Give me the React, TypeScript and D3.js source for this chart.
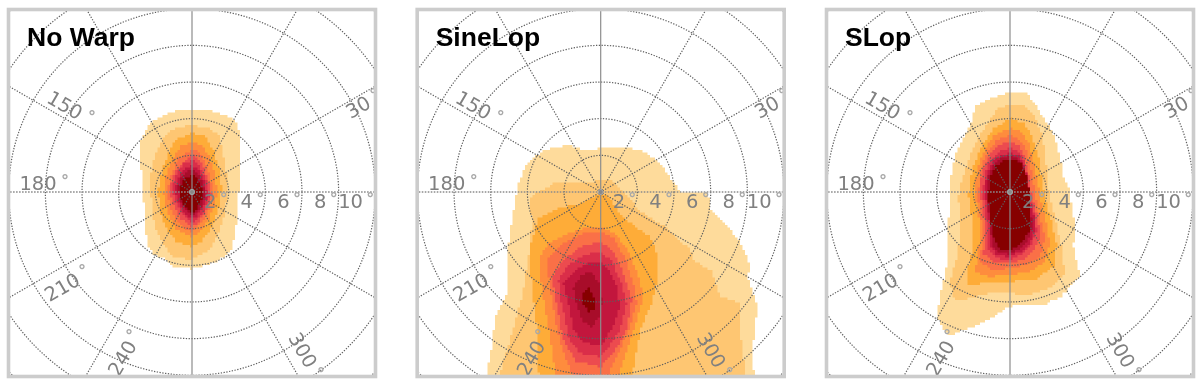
import React from "react";
import * as d3 from "d3";

type Pt = [number, number];

// field of view axes, in degrees
const radialTicks = [2, 4, 6, 8, 10];
const ringTicks = [2, 4, 6, 8, 10, 12, 14];
const spokeAngles = [0, 30, 60, 90, 120, 150];
const thetaTicks = ["30", "150", "180", "210", "240", "300"];
const panelTitles = ["No Warp", "SineLop", "SLop"];

const levelColors = [
  "#fedb9b", "#fec672", "#feac38", "#fe8c3c", "#fa6f46",
  "#ec4c50", "#da2e4a", "#c2163c", "#a80a2a", "#860004",
];

// iso-density contours, [x deg, y deg] from the view centre, outermost first
const noWarpLevels: Pt[][] = [
  [[0,4.49],[1.18,4.4],[2.36,3.95],[2.67,2.85],[2.55,1.76],[2.67,.67],[2.49,-.42],[2.49,-1.33],[2.36,-2.24],[2.18,-3.15],[1.91,-3.47],[1,-3.96],[0,-4.2],[-1,-4.05],[-1.36,-3.69],[-2.05,-3.42],[-2.45,-2.78],[-2.55,-1.69],[-2.64,-.42],[-2.73,.85],[-2.91,2.49],[-2.45,3.58],[-1.91,4.04],[-1,4.4]],
  [[0,3.65],[.89,3.47],[1.44,3.11],[1.67,2.29],[1.85,1.2],[1.98,.11],[1.8,-1.16],[1.44,-2.25],[.98,-3.16],[0,-3.71],[-1.02,-3.53],[-1.56,-2.89],[-2.02,-1.89],[-2.2,-.62],[-2.29,.65],[-2.11,1.75],[-1.75,2.65],[-1.29,3.29],[-.65,3.56]],
  [[0,3.2],[.71,3.02],[1.16,2.29],[1.44,1.38],[1.62,.11],[1.44,-.98],[1.07,-1.98],[.53,-2.71],[0,-3],[-.84,-2.71],[-1.38,-1.98],[-1.75,-1.07],[-1.84,.11],[-1.65,1.2],[-1.29,2.1],[-.93,2.84]],
  [[0,2.75],[.62,2.47],[.98,1.84],[1.25,.93],[1.38,-.07],[1.16,-.98],[.8,-1.71],[.35,-2.25],[0,-2.44],[-.84,-2.07],[-1.29,-1.25],[-1.56,-.07],[-1.38,1.11],[-.93,2.02],[-.56,2.56]],
  [[0,2.38],[.53,2.02],[.89,1.2],[1.16,.02],[.95,-.98],[.53,-1.71],[0,-2.16],[-.65,-1.8],[-1.11,-1.07],[-1.38,-.07],[-1.16,.93],[-.75,1.84]],
  [[0,2.02],[.47,1.65],[.84,.84],[1.07,-.16],[.76,-1.07],[.38,-1.67],[0,-1.89],[-.56,-1.49],[-.98,-.8],[-1.24,.11],[-1.02,.93],[-.56,1.56]],
  [[0,1.75],[.44,1.38],[.76,.65],[.95,-.25],[.65,-1.07],[.35,-1.49],[0,-1.71],[-.47,-1.25],[-.87,-.53],[-1.09,.2],[-.84,1.02],[-.47,1.56]],
  [[0,1.47],[.4,1.11],[.69,.47],[.84,-.25],[.55,-.98],[.25,-1.35],[0,-1.49],[-.44,-1.07],[-.8,-.44],[-.93,.29],[-.69,.93],[-.38,1.29]],
  [[0,1.29],[.35,.93],[.62,.38],[.73,-.35],[.44,-.98],[0,-1.35],[-.38,-.95],[-.69,-.35],[-.75,.38],[-.51,.93]],
  [[0,.98],[.31,.65],[.55,.11],[.53,-.44],[.31,-.89],[0,-1.2],[-.33,-.84],[-.6,-.35],[-.65,.25],[-.38,.75]],
];

const sineLopLevels: Pt[][] = [
  [[-3.13,2.29],[-1.82,2.56],[-.95,2.29],[-.04,2.38],[1.05,2.47],[2.15,2.29],[2.87,1.84],[3.42,1.29],[3.87,.65],[4.33,.02],[5.87,-.07],[5.96,-.89],[6.78,-1.71],[7.51,-2.62],[8.11,-3.89],[8.05,-4.8],[8.51,-6.07],[8.47,-7.35],[8.24,-8.8],[8.42,-10.44],[-6.4,-10.44],[-6.22,-9.89],[-5.95,-8.44],[-5.76,-6.8],[-5.04,-5.35],[-5.04,-4.07],[-5.04,-2.8],[-4.76,-.98],[-4.49,.47],[-4.04,1.56]],
  [[-3.67,-.16],[-2.4,.56],[-1.31,.47],[-.49,.56],[0,.69],[.69,.56],[1.42,-.16],[2.15,-1.07],[3.6,-1.98],[4.87,-3.16],[5.05,-3.71],[6.05,-4.35],[6.51,-5.71],[7.6,-6.07],[7.56,-7.53],[7.78,-8.8],[7.87,-10.44],[-5.67,-10.44],[-4.95,-8.07],[-4.24,-5.51],[-4.04,-4.07],[-3.85,-2.98],[-3.76,-1.53],[-3.85,-.44]],
  [[0,-.04],[.51,-.35],[1.05,-1.25],[1.96,-1.98],[2.69,-2.44],[3.05,-3.35],[3.05,-4.98],[2.78,-6.07],[2.24,-7.35],[1.96,-8.62],[1.69,-10.44],[-3.31,-10.44],[-3.49,-8.8],[-3.45,-7.53],[-3.67,-5.89],[-3.82,-4.25],[-3.82,-2.8],[-3.4,-1.44],[-2.4,-.89],[-1.13,-.62]],
  [[0,-1.93],[.87,-2.35],[1.51,-3.25],[2.05,-4.62],[2.33,-5.71],[1.87,-7.35],[1.42,-8.71],[.87,-10.44],[-2.4,-10.44],[-2.67,-8.44],[-2.95,-6.8],[-3.22,-5.16],[-3.35,-3.53],[-2.85,-2.8],[-2.04,-2.35],[-.95,-1.98]],
  [[0,-2.16],[.69,-2.53],[1.33,-3.62],[1.78,-4.98],[1.96,-6.07],[1.6,-7.35],[1.05,-8.62],[.6,-9.53],[.24,-10.44],[-1.31,-10.44],[-1.95,-8.98],[-2.4,-7.35],[-2.67,-5.71],[-2.85,-4.44],[-2.85,-3.53],[-2.04,-2.8],[-.95,-2.25]],
  [[0,-2.71],[.69,-3.25],[1.24,-4.44],[1.69,-5.89],[1.42,-7.53],[.69,-8.8],[.05,-9.53],[-1.31,-9.25],[-2.04,-8.07],[-2.4,-6.07],[-2.67,-4.62],[-2.04,-3.71],[-1.13,-2.98]],
  [[0,-3.25],[.6,-3.8],[1.05,-4.8],[1.42,-6.07],[1.05,-7.53],[.42,-8.53],[0,-8.98],[-1.13,-8.8],[-1.76,-7.89],[-2.13,-6.07],[-2.31,-4.8],[-1.76,-4],[-.95,-3.44]],
  [[0,-3.8],[.51,-4.35],[.87,-5.16],[1.05,-6.25],[.69,-7.35],[.24,-8.07],[0,-8.35],[-.85,-8.25],[-1.49,-7.53],[-1.76,-6.07],[-2.04,-4.98],[-1.4,-4.25],[-.67,-3.89]],
  [[-.49,-4.35],[0,-5.16],[.05,-6.07],[-.04,-6.8],[-.49,-7.35],[-.95,-7.07],[-1.31,-6.16],[-1.49,-5.16],[-1.04,-4.53]],
  [[-.67,-5.26],[-.31,-5.89],[-.31,-6.44],[-.67,-6.53],[-.98,-6.07],[-1.04,-5.53]],
];

const sLopLevels: Pt[][] = [
  [[0,5.49],[.82,5.44],[1.36,4.85],[1.73,4.13],[2.36,3.22],[2.73,1.95],[2.91,.85],[3.27,.04],[3.36,-.78],[3.58,-1.87],[3.45,-2.96],[3.82,-4.6],[2.82,-5.69],[1.91,-6.15],[0,-6.24],[-.82,-6.78],[-1.91,-7.33],[-3.36,-7.87],[-4,-6.78],[-3.73,-5.15],[-3.36,-3.69],[-3.45,-2.24],[-3.27,-.78],[-3.27,.67],[-3,1.95],[-2.45,3.22],[-2.09,3.85],[-1.91,4.67],[-1.18,5.07],[-.36,5.31]],
  [[0,4.75],[.82,4.71],[1.31,4.11],[1.73,3.11],[1.91,2.2],[2,1.11],[2.15,-.16],[2.45,-1.44],[2.76,-2.71],[3,-4.44],[2.36,-5.16],[1.09,-5.62],[0,-5.53],[-1.18,-5.53],[-2.18,-5.8],[-3,-5.98],[-3.27,-4.89],[-2.82,-3.25],[-2.73,-1.8],[-2.82,-.16],[-2.55,.93],[-2.09,2.2],[-1.64,3.11],[-.91,4.2],[-.64,4.6]],
  [[0,4.02],[.73,3.75],[1.18,3.11],[1.55,1.93],[1.73,.75],[1.91,-.35],[2.27,-1.62],[2.55,-2.89],[2.4,-4.07],[1.45,-4.75],[0,-4.89],[-1.27,-4.98],[-2.33,-5.07],[-2.36,-4.35],[-2,-3.07],[-2.09,-1.44],[-2.27,-.16],[-2.09,1.11],[-1.64,2.38],[-.91,3.47]],
  [[0,3.47],[.64,3.29],[1.05,2.56],[1.31,1.47],[1.55,.38],[1.73,-.71],[2,-1.8],[2.18,-2.89],[1.91,-3.8],[1.09,-4.35],[0,-4.53],[-1.09,-4.62],[-1.91,-4.35],[-1.73,-3.25],[-1.64,-1.8],[-1.85,-.53],[-1.85,.75],[-1.64,1.84],[-.91,3.11]],
  [[0,3.11],[.55,2.84],[.91,2.2],[1.18,1.11],[1.36,-.16],[1.64,-1.44],[1.91,-2.53],[1.64,-3.53],[.91,-3.98],[0,-4.16],[-.91,-4.25],[-1.64,-3.8],[-1.55,-2.89],[-1.55,-1.62],[-1.73,-.35],[-1.67,.93],[-1.36,2.02],[-.73,2.84]],
  [[0,2.75],[.45,2.56],[.76,2.02],[1,1.02],[1.18,-.16],[1.45,-1.25],[1.67,-2.35],[1.36,-3.16],[.73,-3.71],[0,-3.89],[-.82,-3.89],[-1.45,-3.35],[-1.36,-2.16],[-1.45,-1.07],[-1.64,.02],[-1.55,1.02],[-1.18,1.93],[-.64,2.56]],
  [[0,2.38],[.45,2.24],[.73,1.75],[.91,.93],[1.05,-.16],[1.31,-1.16],[1.45,-2.16],[1.18,-2.89],[.64,-3.44],[0,-3.71],[-.73,-3.62],[-1.24,-3.07],[-1.24,-1.98],[-1.36,-.89],[-1.49,.02],[-1.36,1.02],[-1.09,1.75],[-.55,2.29]],
  [[0,2.11],[.45,2.02],[.82,1.38],[1,.38],[1.13,-.62],[1.36,-1.62],[1.27,-2.53],[.82,-3.16],[0,-3.53],[-.73,-3.44],[-1.13,-2.89],[-1.13,-1.8],[-1.27,-.71],[-1.36,.2],[-1.24,1.11],[-.91,1.75],[-.45,2.05]],
  [[0,1.98],[.45,1.84],[.82,1.11],[1,.02],[1.08,-.89],[1.22,-1.8],[1,-2.62],[.58,-3.07],[0,-3.38],[-.64,-3.29],[-1,-2.8],[-1.05,-1.8],[-1.18,-.89],[-1.27,.02],[-1.18,.93],[-.82,1.62],[-.4,1.93]],
  [[0,1.8],[.58,1.62],[.91,.84],[1.09,-.16],[1.03,-1.44],[1.12,-2],[.73,-2.71],[0,-3.2],[-.64,-3.07],[-.91,-2.35],[-1.09,-1.44],[-1.18,-.35],[-1.13,.75],[-.73,1.47],[-.36,1.75]],
];

const panelLevels = [noWarpLevels, sineLopLevels, sLopLevels];

// layout
const centersX = [192, 600.7, 1010];
const centerY = 192;
const frameHalf = 183.5;
const pxPerDeg = 18.33;
const cellPx = 2.5; // the density map was binned, its contours step at about this size
const fontFamily = "'DejaVu Sans', sans-serif";

// text centre and degree mark offsets from the view centre, and rotation
const thetaLabelLayout: Record<string, { dx: number; dy: number; mx: number; my: number; rot: number }> = {
  "30": { dx: 166, dy: -85, mx: 181, my: -101, rot: -30 },
  "150": { dx: -127, dy: -87, mx: -100, my: -79, rot: 30 },
  "180": { dx: -154, dy: -9, mx: -127, my: -15, rot: 0 },
  "210": { dx: -130, dy: 95, mx: -110, my: 75, rot: -30 },
  "240": { dx: -70, dy: 166, mx: -63, my: 140, rot: -60 },
  "300": { dx: 111, dy: 158, mx: 129, my: 178, rot: 60 },
};

// walks the polygon in pixels and snaps it to the cell grid, so edges stair-step
function steppedPath(pixels: Pt[]) {
  const snap = (v: number) => Math.round(v / cellPx) * cellPx;
  const path = d3.path();
  let lastX = snap(pixels[0][0]);
  let lastY = snap(pixels[0][1]);
  path.moveTo(lastX, lastY);
  pixels.forEach((p, i) => {
    const q = pixels[(i + 1) % pixels.length];
    const n = Math.ceil(Math.hypot(q[0] - p[0], q[1] - p[1]));
    for (let k = 1; k <= n; k++) {
      const sx = snap(p[0] + ((q[0] - p[0]) * k) / n);
      const sy = snap(p[1] + ((q[1] - p[1]) * k) / n);
      if (sx !== lastX) {
        path.lineTo(sx, lastY);
        lastX = sx;
      }
      if (sy !== lastY) {
        path.lineTo(lastX, sy);
        lastY = sy;
      }
    }
  });
  path.closePath();
  return path.toString();
}

function DegreeMark({ x, y }: { x: number; y: number }) {
  return (
    <text x={x} y={y + 9} textAnchor="middle" fontSize={16} fontWeight="bold" fill="#a8a8a8" fontFamily={fontFamily}>
      °
    </text>
  );
}

function Panel({ index }: { index: number }) {
  const cx = centersX[index];
  const x = d3.scaleLinear().domain([0, 10]).range([cx, cx + pxPerDeg * 10]);
  const y = d3.scaleLinear().domain([0, 10]).range([centerY, centerY - pxPerDeg * 10]);
  const r = d3.scaleLinear().domain([0, 10]).range([0, pxPerDeg * 10]);
  const clipId = `clip-${index}`;

  return (
    <g>
      <clipPath id={clipId}>
        <rect x={cx - frameHalf} y={centerY - frameHalf + 1} width={frameHalf * 2} height={frameHalf * 2} />
      </clipPath>
      <g clipPath={`url(#${clipId})`}>
        {panelLevels[index].map((pts, i) => (
          <path key={i} d={steppedPath(pts.map((d) => [x(d[0]), y(d[1])] as Pt))} fill={levelColors[i]} />
        ))}
        {ringTicks.map((t) => (
          <circle key={t} cx={cx} cy={centerY} r={r(t)} fill="none" stroke="#5e5e5e" strokeWidth={1.2} strokeDasharray="1.3 1.5" />
        ))}
        {spokeAngles.map((a) => {
          const rad = (a * Math.PI) / 180;
          const len = r(15);
          const isHoriz = a === 0;
          const isVert = a === 90;
          return (
            <line
              key={a}
              x1={cx - len * Math.cos(rad)}
              y1={centerY + len * Math.sin(rad)}
              x2={cx + len * Math.cos(rad)}
              y2={centerY - len * Math.sin(rad)}
              stroke={isHoriz ? "#8c8c8c" : isVert ? "#8c8c8c" : "#5e5e5e"}
              strokeWidth={isHoriz ? 1.6 : isVert ? 1.2 : 1.2}
              strokeDasharray={isVert ? undefined : isHoriz ? "1.6 1.4" : "1.3 1.5"}
            />
          );
        })}
        <circle cx={cx} cy={centerY} r={2.5} fill="#888" stroke="#aaa" strokeWidth={1} />
        {radialTicks.map((t) => (
          <g key={t}>
            <text x={cx + r(t) - 12.3} y={centerY + 16.3} textAnchor="end" fontSize={19.5} fill="#808080" fontFamily={fontFamily}>
              {t}
            </text>
            <DegreeMark x={cx + r(t) - 5} y={centerY + 2.7} />
          </g>
        ))}
        {thetaTicks.map((t) => {
          const l = thetaLabelLayout[t];
          return (
            <g key={t}>
              <text
                transform={`translate(${cx + l.dx},${centerY + l.dy}) rotate(${l.rot})`}
                y={7}
                textAnchor="middle"
                fontSize={19.5}
                fill="#808080"
                fontFamily={fontFamily}
              >
                {t}
              </text>
              <DegreeMark x={cx + l.mx} y={centerY + l.my} />
            </g>
          );
        })}
      </g>
      <rect x={cx - frameHalf} y={centerY - frameHalf + 1} width={frameHalf * 2} height={frameHalf * 2} fill="none" stroke="#cccccc" strokeWidth={3.6} />
      <text x={cx - 165} y={46} fontSize={26.5} fontWeight="bold" fill="#000" fontFamily="'Liberation Sans', Arial, sans-serif">
        {panelTitles[index]}
      </text>
    </g>
  );
}

export default function App() {
  return (
    <svg width={1200} height={382} style={{ position: "absolute", left: 0, top: 0, display: "block" }}>
      <defs>
        <filter id="soften" x="0" y="0" width="100%" height="100%">
          <feGaussianBlur stdDeviation={0.6} />
        </filter>
      </defs>
      <rect width={1200} height={382} fill="#fff" />
      <g filter="url(#soften)">
        {panelTitles.map((_, i) => (
          <Panel key={i} index={i} />
        ))}
      </g>
    </svg>
  );
}
